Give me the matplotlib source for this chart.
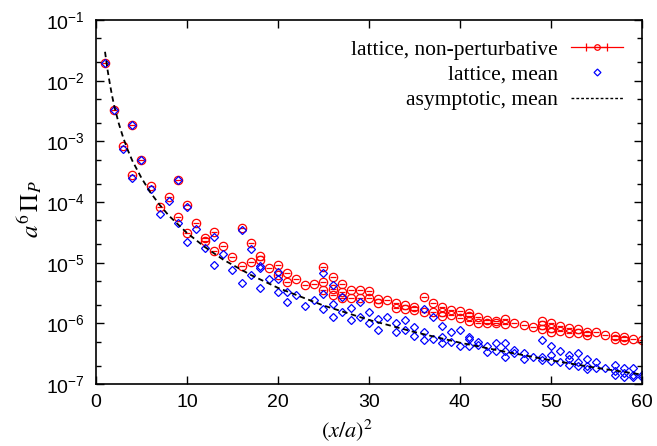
import numpy as np
import matplotlib
matplotlib.use("Agg")
import matplotlib.pyplot as plt
from matplotlib.ticker import LogLocator, NullFormatter, MultipleLocator

plt.rcParams['font.family'] = ['Liberation Sans', 'DejaVu Sans']
plt.rcParams['mathtext.fontset'] = 'stix'

# (x/a)^2 values, 1..60
sep = list(range(1, 61))

# log10 of a^6 Pi_P, read per (x/a)^2
red_log = [
    [-1.71], [-2.48], [-3.08], [-2.73, -3.55], [-3.31], [-3.74], [-4.09], [-3.92],
    [-3.64, -4.24], [-4.05, -4.51], [-4.35], [-4.60, -4.64], [-4.50, -4.81], [-4.72],
    [-4.90], [-4.42, -5.05], [-4.68, -4.99], [-4.89, -4.96], [-5.08], [-5.03, -5.21],
    [-5.17, -5.32], [-5.27], [-5.37], [-5.35], [-5.07, -5.32, -5.45],
    [-5.23, -5.44, -5.53], [-5.35, -5.49, -5.58], [-5.45, -5.58], [-5.45, -5.58],
    [-5.46, -5.58], [-5.60, -5.66], [-5.62], [-5.67, -5.75], [-5.70, -5.77],
    [-5.73, -5.78], [-5.57, -5.81], [-5.67, -5.82], [-5.73, -5.81, -5.88],
    [-5.78, -5.86], [-5.80, -5.91], [-5.83, -5.88, -5.96], [-5.90, -5.99],
    [-5.94, -6.00], [-5.96, -6.00], [-5.93, -6.01], [-6.00], [-6.03], [-6.06],
    [-5.96, -6.03, -6.10], [-6.00, -6.08, -6.14], [-6.04, -6.12], [-6.08, -6.16],
    [-6.10, -6.16], [-6.14, -6.19], [-6.15], [-6.19], [-6.21, -6.26], [-6.22, -6.27],
    [-6.26], [-6.27],
]

blue_log = [
    [-1.71], [-2.48], [-3.12], [-2.73, -3.61], [-3.31], [-3.79], [-4.19], [-3.98],
    [-3.64, -4.34], [-4.08, -4.66], [-4.45], [-4.76], [-4.58, -5.04], [-4.86],
    [-5.12], [-4.46, -5.34], [-4.77, -5.20], [-5.05, -5.09, -5.41], [-5.27],
    [-5.15, -5.27, -5.48], [-5.48, -5.64], [-5.53], [-5.71], [-5.62],
    [-5.17, -5.52, -5.76], [-5.37, -5.68, -5.90], [-5.56, -5.82], [-5.74, -5.94],
    [-5.64, -5.90], [-5.81, -6.00], [-5.93, -6.11], [-5.90], [-6.00, -6.15],
    [-5.94, -6.11], [-6.06, -6.21], [-5.77, -6.15, -6.27], [-5.90, -6.26],
    [-6.04, -6.22, -6.33], [-6.14, -6.30], [-6.11, -6.38], [-6.22, -6.26, -6.38],
    [-6.30, -6.36], [-6.38, -6.47], [-6.33, -6.45], [-6.32, -6.46, -6.55],
    [-6.44, -6.49], [-6.49, -6.58], [-6.55], [-6.27, -6.55, -6.60],
    [-6.37, -6.52, -6.62], [-6.45, -6.63], [-6.52, -6.58, -6.69],
    [-6.49, -6.63, -6.71], [-6.58, -6.70, -6.76], [-6.63, -6.74], [-6.74],
    [-6.69, -6.78, -6.85], [-6.74, -6.82, -6.88], [-6.74, -6.85, -6.89],
    [-6.85, -6.89],
]

# asymptotic curve, read at a few points
asym_x = [1, 1.25, 1.5, 1.75, 2, 2.5, 3, 3.5, 4, 5, 6, 7, 8, 10, 12, 14, 17, 20, 25, 30,
          35, 40, 45, 50, 55, 60]
asym_y = [3.0e-2, 1.6e-2, 9.5e-3, 5.9e-3, 3.9e-3, 2.0e-3, 1.15e-3, 7.2e-4, 4.8e-4,
          2.5e-4, 1.43e-4, 9.0e-5, 6.0e-5, 3.1e-5, 1.8e-5, 1.12e-5, 6.3e-6, 3.85e-6,
          1.97e-6, 1.14e-6, 7.2e-7, 4.8e-7, 3.4e-7, 2.46e-7, 1.85e-7, 1.43e-7]

yticks = [1e-7, 1e-6, 1e-5, 1e-4, 1e-3, 1e-2, 1e-1]

rx = [n for n, vs in zip(sep, red_log) for v in vs]
ry = 10 ** np.array([v for vs in red_log for v in vs])
bx = [n for n, vs in zip(sep, blue_log) for v in vs]
by = 10 ** np.array([v for vs in blue_log for v in vs])

fig = plt.figure(figsize=(6.57, 4.46), dpi=100)
ax = fig.add_axes([0.146, 0.139, 0.831, 0.816])

# red: open circle with the (tiny) error bar caps showing as a bar inside
ax.plot(rx, ry, 'o', mfc='none', mec='red', ms=6, mew=0.9)
ax.plot(rx, ry, '_', color='red', ms=5, mew=0.9)
ax.plot(bx, by, 'D', mfc='none', mec='blue', ms=4, mew=0.9)
ax.plot(asym_x, asym_y, '--', color='black', lw=1.3, dashes=(3, 2))

# legend proxies
h1 = ax.errorbar([np.nan], [np.nan], xerr=[1], fmt='-o', color='red', mfc='none',
                 ms=4, mew=0.9, capsize=3, lw=0.9)
h2, = ax.plot([np.nan], [np.nan], 'D', mfc='none', mec='blue', ms=3.5, mew=0.9)
h3, = ax.plot([np.nan], [np.nan], '--', color='black', lw=1.0, dashes=(2, 1.5))
ax.legend([h1, h2, h3], ['lattice, non-perturbative', 'lattice, mean', 'asymptotic, mean'],
          loc='upper right', frameon=False, markerfirst=False, handlelength=2.4,
          labelspacing=0.25, borderaxespad=0.5, handletextpad=0.6,
          prop={'family': 'Liberation Serif', 'size': 15.5})

ax.set_yscale('log')
ax.set_xlim(0, 60)
ax.set_ylim(1e-7, 1e-1)
ax.xaxis.set_major_locator(MultipleLocator(10))
ax.set_yticks(yticks)
ax.yaxis.set_minor_locator(LogLocator(base=10, subs=(2, 5)))
ax.yaxis.set_minor_formatter(NullFormatter())
ax.tick_params(which='both', direction='in', top=True, right=True, labelsize=14)
ax.tick_params(which='major', length=6, width=1)
ax.tick_params(which='minor', length=3.5, width=1)
ax.tick_params(axis='x', pad=7)
ax.tick_params(axis='y', pad=8)
for s in ax.spines.values():
    s.set_linewidth(1.2)

ax.set_xlabel(r'$(x/a)^2$', fontsize=16)
ax.set_ylabel(r'$a^6\,\Pi_P$', fontsize=18)
ax.xaxis.set_label_coords(0.46, -0.09)
ax.yaxis.set_label_coords(-0.095, 0.48)

fig.savefig('out.png', dpi=100)
